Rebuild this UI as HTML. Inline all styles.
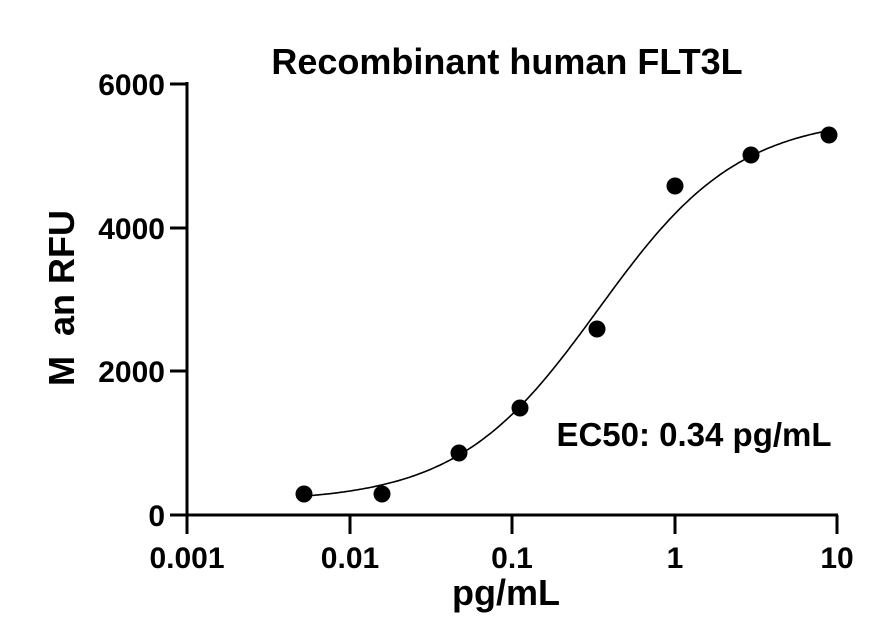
<!DOCTYPE html>
<html><head><style>body{margin:0;background:#fff}svg text{font-family:"Liberation Sans",Arial,sans-serif;font-weight:bold;fill:#000}</style></head>
<body>
<svg width="886" height="621" xmlns="http://www.w3.org/2000/svg">
<text x="507" y="74" font-size="36" text-anchor="middle">Recombinant human FLT3L</text>
<g stroke="#000" stroke-width="3" fill="none" stroke-linecap="butt">
<path d="M187,82 V515 M170,515 H838"/>
<path d="M170,84 H187 M170,228 H187 M170,371 H187"/>
<path d="M187,515 V534 M350,515 V534 M512,515 V534 M675,515 V534 M837,515 V534"/>
</g>
<g font-size="30" text-anchor="end">
<text x="165" y="95">6000</text><text x="165" y="239">4000</text><text x="165" y="382">2000</text><text x="165" y="526">0</text>
</g>
<g font-size="30" text-anchor="middle">
<text x="187" y="568">0.001</text><text x="350" y="568">0.01</text><text x="512" y="568">0.1</text><text x="675" y="568">1</text><text x="837" y="568">10</text>
</g>
<text x="506" y="605" font-size="36" text-anchor="middle">pg/mL</text>
<text transform="translate(74,298) rotate(-90)" font-size="36" text-anchor="middle" xml:space="preserve">M  an RFU</text>
<text x="694" y="446" font-size="33" text-anchor="middle">EC50: 0.34 pg/mL</text>
<path id="c" d="" stroke="#000" stroke-width="1.6" fill="none"/>
<g fill="#000">
<circle cx="304" cy="494" r="8.5"/><circle cx="382" cy="494" r="8.5"/><circle cx="459" cy="453" r="8.5"/><circle cx="520" cy="408" r="8.5"/><circle cx="597" cy="329" r="8.5"/><circle cx="675" cy="186" r="8.5"/><circle cx="751" cy="155" r="8.5"/><circle cx="829" cy="135" r="8.5"/>
</g>
</svg>
<script>
var d="";for(var px=300;px<=830;px+=2){var lx=(px-187)/162.5-3;var x=Math.pow(10,lx);var r=x/0.34;var v=180+5370*r/(1+r);var py=515-v*431/6000;d+=(px==300?"M":"L")+px+","+py.toFixed(1);}
document.getElementById("c").setAttribute("d",d);
</script>
</body></html>
